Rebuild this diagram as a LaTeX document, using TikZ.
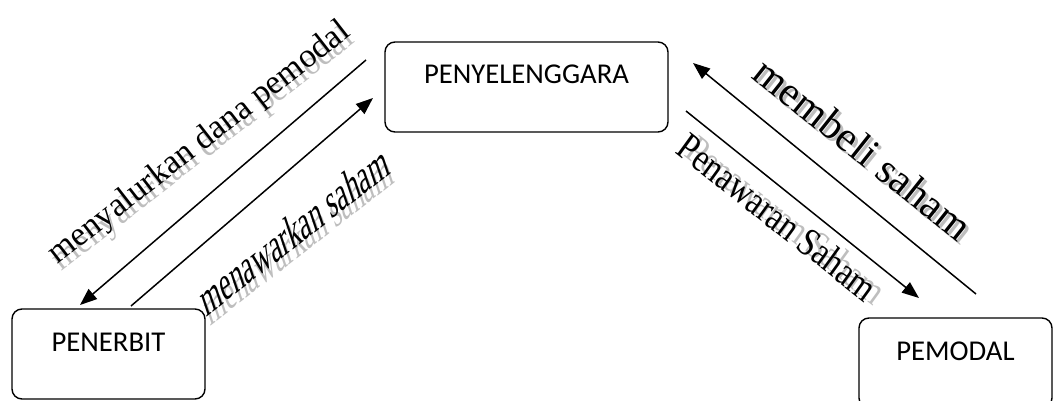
\documentclass[tikz,border=0pt]{standalone}
\usepackage{fontspec}
\setmainfont{Liberation Serif}
\newfontfamily\boxfont{Carlito}
\usetikzlibrary{arrows.meta}
\definecolor{shadegray}{RGB}{190,190,190}
\newcommand{\wasize}[1]{\rmfamily\fontsize{#1}{#1}\selectfont}
\tikzset{
  party/.style={draw, rounded corners=10pt, line width=1.4pt, inner sep=0pt,
    minimum width=193pt, text height=42pt, text depth=48pt,
    font=\boxfont\fontsize{28.7}{30}\selectfont},
  flow/.style={line width=1.5pt, -{Triangle[length=17pt,width=13pt]}},
  lbl/.style={inner sep=0pt, anchor=base},
  shade/.style 2 args={text=shadegray, xshift=#1pt, yshift=-#2pt}
}
\begin{document}
\begin{tikzpicture}[x=1pt,y=-1pt,
  slantsalur/.style={lbl, font=\wasize{33.8}, rotate=38},
  slanttawar/.style={lbl, font=\wasize{29.6}, cm={0.788,0.616,-0.5,1.5,(0,0)}},
  slantbeli/.style={lbl, font=\wasize{42}, rotate=-38.5},
  slantoffer/.style={lbl, font=\wasize{32.9}, cm={0.785,-0.620,0.705,0.971,(0,0)}}]
\useasboundingbox (0,0) rectangle (1053,401);
\clip (0,0) rectangle (1053,401);
% parties
\node [party] (penerbit) at (108.5,354) {PENERBIT};
\node [party, minimum width=283pt] (penyelenggara) at (526.5,87) {PENYELENGGARA};
\node [party] (pemodal) at (955.5,363) {PEMODAL};
% arrow ends
\coordinate (salurA) at (366,60);
\coordinate (salurB) at (80,305);
\coordinate (tawarA) at (131,306);
\coordinate (tawarB) at (373,98);
\coordinate (beliA) at (976,294);
\coordinate (beliB) at (693,63);
\coordinate (offerA) at (686,111);
\coordinate (offerB) at (919,298);
\draw [flow] (salurA) -- (salurB);
\draw [flow] (tawarA) -- (tawarB);
\draw [flow] (beliA) -- (beliB);
\draw [flow] (offerA) -- (offerB);
% labels, grey copy first
\node [shade={4}{7}, slantsalur] (salurS) at (205,150) {menyalurkan dana pemodal};
\node [slantsalur] (salur) at (205,150) {menyalurkan dana pemodal};
\node [shade={4}{9}, slanttawar] (tawarS) at (299,245) {menawarkan saham};
\node [slanttawar] (tawar) at (299,245) {menawarkan saham};
\node [shade={3}{3}, slantbeli] (beliS) at (854,160) {membeli saham};
\node [slantbeli] (beli) at (854,160) {membeli saham};
\node [shade={9}{3}, slantoffer] (offerS) at (770,228) {Penawaran Saham};
\node [slantoffer] (offer) at (770,228) {Penawaran Saham};
\end{tikzpicture}
\end{document}
